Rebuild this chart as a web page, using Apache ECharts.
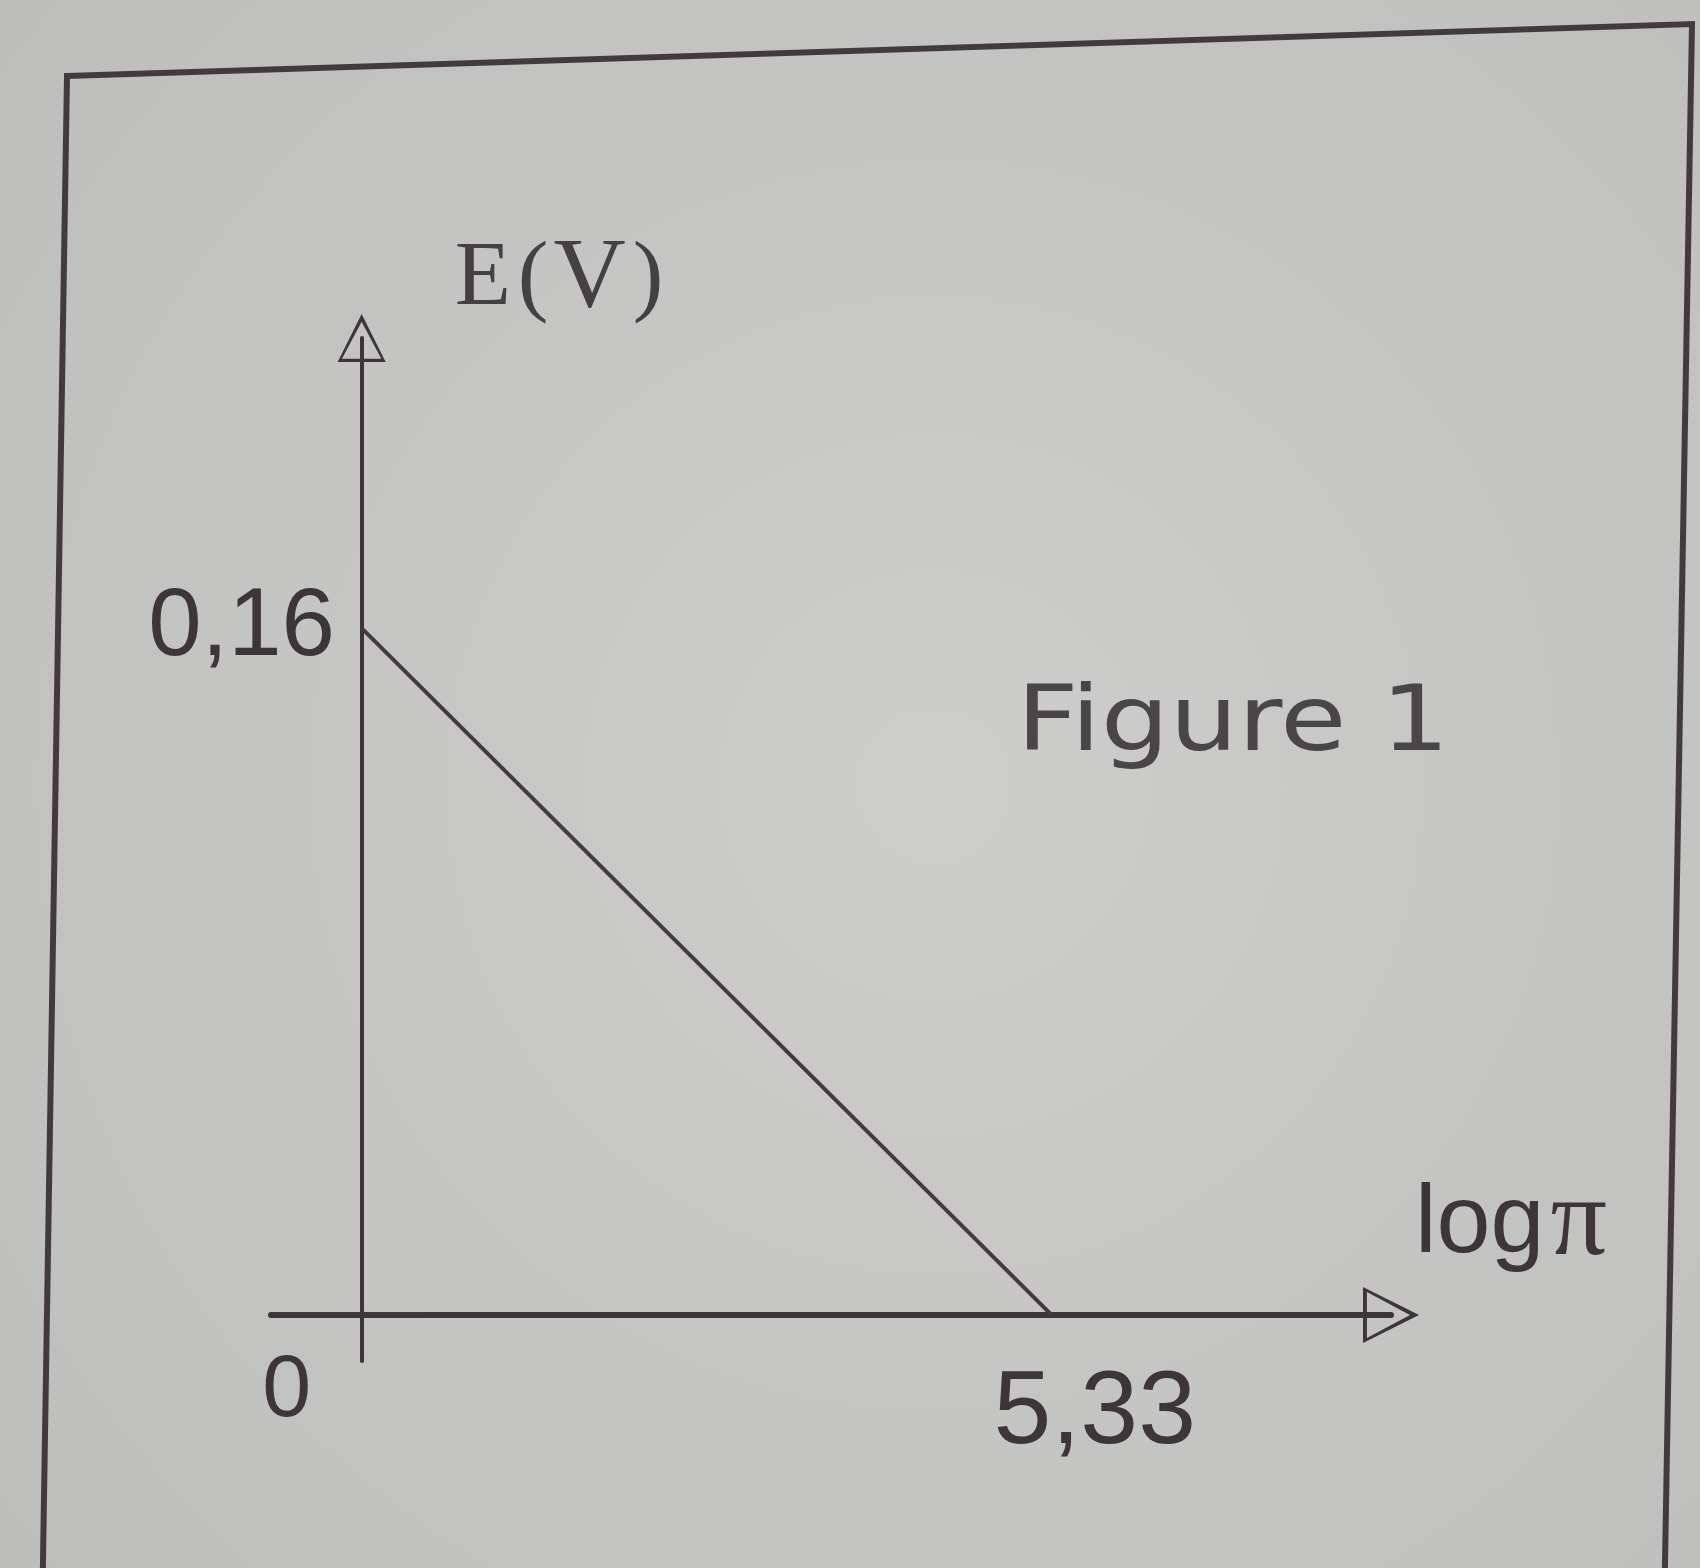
<!DOCTYPE html>
<html>
<head>
<meta charset="utf-8">
<title>Figure 1</title>
<script src="https://cdn.jsdelivr.net/npm/echarts@6/dist/echarts.min.js"></script>
<style>
html,body{margin:0;padding:0;background:#c7c7c5;}
#main{width:1700px;height:1568px;}
</style>
</head>
<body>
<div id="main"></div>
<script>
// E(V) en fonction de log(pi) : droite de 0,16 V jusqu'a 5,33
var lineX = [0, 5.33];
var lineE = [0.16, 0];
var xTicks = [0, 5.33];
var yTicks = [0.16];
var xRange = [-0.7, 7.95];
var yRange = [-0.0107, 0.2276];

var ink = '#3d3538';
// fleche en triangle evide (contour seulement)
var arrowPath = 'path://M50,0 L100,100 L0,100 Z M50,16 L9,93 L91,93 Z';

function virgule(v){
	return String(v).replace('.', ',');
}

var points = [];
for (var i = 0; i < lineX.length; i++) {
	points.push([lineX[i], lineE[i]]);
}

var myChart = echarts.init(document.getElementById('main'));
var option = {
	backgroundColor: {
		type: 'radial', x: 0.55, y: 0.5, r: 0.75,
		colorStops: [{offset: 0, color: '#cdcdcb'}, {offset: 1, color: '#bebebc'}]
	},
	animation: false,
	grid: {
		left: 271,
		right: 309,
		top: 338,
		bottom: 207,
		containLabel: false,
		outerBoundsMode: 'none'
	},
	xAxis: {
		type: 'value',
		min: xRange[0],
		max: xRange[1],
		name: '{a|log}{b|π}',
		nameLocation: 'end',
		nameGap: 24,
		nameTextStyle: {
			align: 'left',
			verticalAlign: 'middle',
			padding: [0, 0, 180, 0],
			rich: {
				a: {fontFamily: 'Liberation Sans', fontSize: 97, color: ink},
				b: {fontFamily: 'Liberation Serif', fontSize: 112, color: ink, padding: [0, 0, 0, 6]}
			}
		},
		axisLine: {
			onZero: true,
			symbol: ['none', arrowPath],
			symbolSize: [58, 56],
			lineStyle: {color: ink, width: 6}
		},
		axisTick: {show: false},
		splitLine: {show: false},
		axisLabel: {
			customValues: xTicks,
			margin: -13,
			formatter: function(v){
				var t = virgule(v);
				return v === 0 ? '{z|' + t + '}' : '{n|' + t + '}';
			},
			rich: {
				z: {fontFamily: 'Liberation Sans', fontSize: 88, color: ink, padding: [0, 150, 0, 0]},
				n: {fontFamily: 'Liberation Sans', fontSize: 104, color: ink, padding: [14, 0, 0, 86]}
			}
		}
	},
	yAxis: {
		type: 'value',
		min: yRange[0],
		max: yRange[1],
		name: '{e|E}{p|(}{v|V}{p|)}',
		nameLocation: 'end',
		nameGap: 58,
		nameTextStyle: {
			align: 'left',
			verticalAlign: 'middle',
			padding: [0, 0, 0, 93],
			rich: {
				e: {fontFamily: 'Liberation Serif', fontSize: 92, color: '#454043'},
				p: {fontFamily: 'Liberation Serif', fontSize: 92, color: '#454043', padding: [0, 0, 0, 7]},
				v: {fontFamily: 'Liberation Serif', fontSize: 100, color: '#454043', padding: [0, 0, 0, 5]}
			}
		},
		axisLine: {
			onZero: true,
			symbol: ['none', arrowPath],
			symbolSize: [52, 48],
			lineStyle: {color: ink, width: 4}
		},
		axisTick: {show: false},
		splitLine: {show: false},
		axisLabel: {
			customValues: yTicks,
			margin: -64,
			fontFamily: 'Liberation Sans',
			fontSize: 96,
			color: ink,
			padding: [0, 0, 50, 0],
			formatter: virgule
		}
	},
	graphic: [
		{
			// cadre de la figure
			type: 'polygon',
			shape: {points: [[67, 76], [1692, 24], [1664, 1620], [42, 1620]]},
			style: {fill: 'none', stroke: '#433a40', lineWidth: 6}
		},
		{
			type: 'text',
			x: 1233,
			y: 727,
			scaleX: 1.2,
			originX: 0,
			originY: 0,
			style: {
				text: 'Figure 1',
				fontFamily: 'DejaVu Sans',
				fontSize: 90,
				fill: '#4a4548',
				align: 'center',
				verticalAlign: 'middle',
				textAlign: 'center',
				textVerticalAlign: 'middle'
			}
		}
	],
	series: [
		{
			type: 'line',
			data: points,
			symbol: 'none',
			lineStyle: {color: '#473a3f', width: 4},
			z: 3
		}
	]
};
myChart.setOption(option);
</script>
</body>
</html>
